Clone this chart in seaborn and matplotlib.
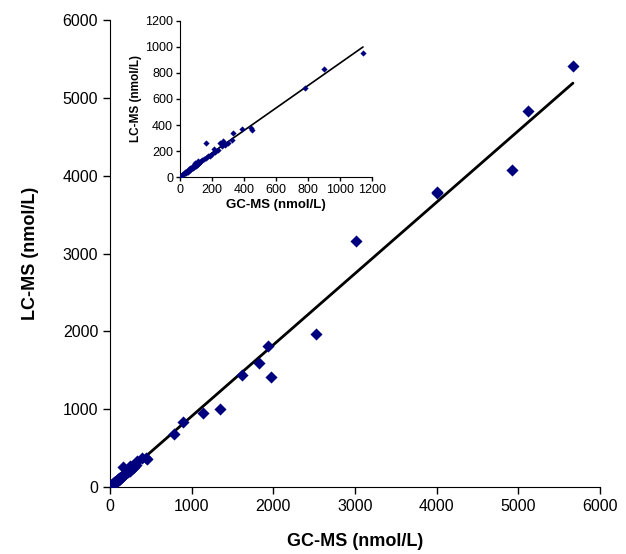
import numpy as np
import matplotlib
matplotlib.use("Agg")
import matplotlib.pyplot as plt
import seaborn as sns

# GC-MS vs LC-MS values (nmol/L)
gc_ms = [5, 10, 15, 20, 25, 30, 35, 40, 45, 50, 55, 60, 65, 70, 75, 80, 85, 90,
         95, 100, 105, 110, 115, 120, 125, 130, 140, 150, 160, 165, 175, 185,
         200, 210, 220, 240, 250, 260, 270, 280, 300, 323, 333, 388, 442, 448,
         781, 900, 1144, 1350, 1616, 1824, 1935, 1971, 2522, 3012, 4000, 4010,
         4922, 5118, 5669]
lc_ms = [8, 15, 12, 22, 20, 35, 30, 38, 50, 42, 60, 55, 70, 62, 80, 72, 90, 78,
         105, 88, 95, 100, 120, 108, 115, 125, 130, 135, 150, 261, 160, 165,
         180, 215, 195, 210, 265, 240, 275, 250, 260, 285, 338, 369, 377, 365,
         685, 831, 954, 1002, 1440, 1593, 1812, 1413, 1966, 3160, 3790, 3780,
         4073, 4830, 5409]

main_ticks = [0, 1000, 2000, 3000, 4000, 5000, 6000]
inset_ticks = [0, 200, 400, 600, 800, 1000, 1200]

sns.set_style("ticks")
plt.rcParams["font.family"] = ["Liberation Sans", "DejaVu Sans"]
for key in ["text.color", "axes.labelcolor", "xtick.color", "ytick.color",
            "axes.edgecolor"]:
    plt.rcParams[key] = "black"

x = np.array(gc_ms)
y = np.array(lc_ms)
marker_color = "#00007f"

fig = plt.figure(figsize=(6.26, 5.54), dpi=100)
ax = fig.add_axes([0.1757, 0.1209, 0.7827, 0.843])

sns.regplot(x=x, y=y, ax=ax, ci=None, scatter=False,
            line_kws={"color": "black", "lw": 2})
sns.scatterplot(x=x, y=y, ax=ax, marker="D", s=38, color=marker_color,
                edgecolor=marker_color, linewidth=0, zorder=3)
ax.set_xlim(0, 6000)
ax.set_ylim(0, 6000)
ax.set_xticks(main_ticks)
ax.set_yticks(main_ticks)
ax.tick_params(labelsize=11.5, length=5, width=1)
ax.set_xlabel("GC-MS (nmol/L)", fontsize=13, fontweight="bold", labelpad=14)
ax.set_ylabel("LC-MS (nmol/L)", fontsize=13, fontweight="bold", labelpad=17)
sns.despine(ax=ax)

# inset: low concentration range
mask = x <= 1200
ins = fig.add_axes([0.2875, 0.6805, 0.3067, 0.2816])
sns.regplot(x=x[mask], y=y[mask], ax=ins, ci=None, scatter=False,
            line_kws={"color": "black", "lw": 1.2})
sns.scatterplot(x=x[mask], y=y[mask], ax=ins, marker="D", s=10,
                color=marker_color, edgecolor=marker_color, linewidth=0,
                zorder=3)
ins.set_xlim(0, 1200)
ins.set_ylim(0, 1200)
ins.set_xticks(inset_ticks)
ins.set_yticks(inset_ticks)
ins.tick_params(labelsize=9, length=3, width=1, pad=2)
ins.set_xlabel("GC-MS (nmol/L)", fontsize=9.5, fontweight="bold", labelpad=2)
ins.set_ylabel("LC-MS (nmol/L)", fontsize=8.5, fontweight="bold", labelpad=2)
ins.patch.set_alpha(0)
sns.despine(ax=ins)

fig.savefig("out.png", dpi=100)
